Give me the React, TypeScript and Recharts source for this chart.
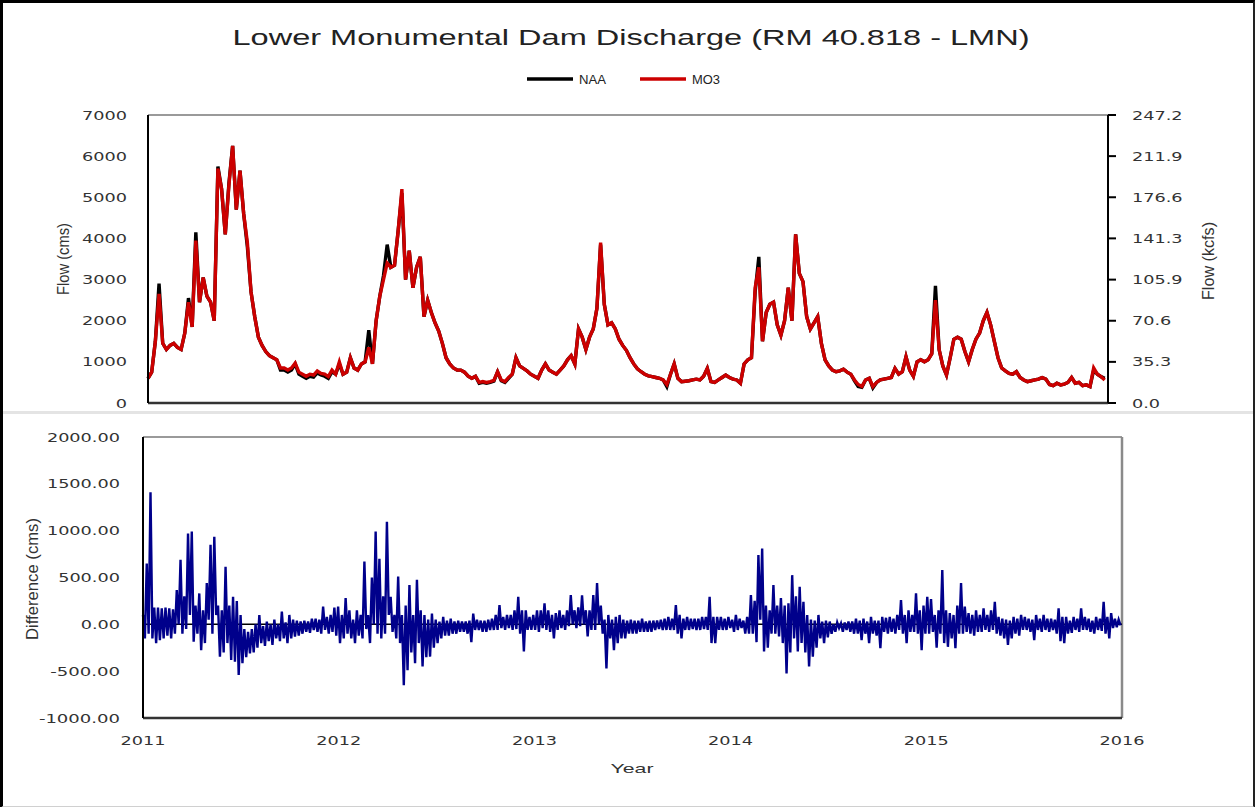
import React from "react";
import { Line, LineChart, ReferenceLine, XAxis, YAxis } from "recharts";

// weekly flow samples, half-weekly difference samples, starting 1 Jan 2011
const START_YEAR = 2011;
const WEEK = 7 / 365.25;
const HALF_WEEK = 3.5 / 365.25;

const yearTicks = [2011, 2012, 2013, 2014, 2015, 2016];
const flowTicks = [0, 1000, 2000, 3000, 4000, 5000, 6000, 7000];
const kcfsTicks = [0, 35.3, 70.6, 105.9, 141.3, 176.6, 211.9, 247.2];
const diffTicks = [-1000, -500, 0, 500, 1000, 1500, 2000];

// MO3 discharge (cms)
const mo3Flow = [
  600, 750, 1500, 2650, 1450, 1300, 1400, 1450, 1350, 1300, 1700, 2450, 1850,
  3950, 2450, 3050, 2600, 2450, 2000, 5700, 5200, 4100, 5300, 6250, 4700, 5650,
  4600, 3900, 2700, 2100, 1600, 1400, 1250, 1150, 1100, 1050, 850, 850, 800,
  850, 970, 750, 700, 650, 700, 680, 780, 720, 700, 640, 800, 700,
  1000, 700, 750, 1100, 850, 800, 950, 1000, 1350, 950, 2000, 2600, 3000,
  3400, 3300, 3350, 4200, 5200, 3000, 3700, 2800, 3300, 3550, 2100, 2500, 2200,
  1950, 1750, 1450, 1100, 950, 850, 800, 800, 750, 650, 600, 650, 500,
  520, 500, 520, 550, 760, 560, 520, 620, 700, 1100, 900, 840, 780,
  700, 650, 600, 800, 950, 800, 750, 700, 800, 900, 1050, 1150, 950,
  1800, 1600, 1300, 1600, 1800, 2300, 3900, 2400, 1900, 1950, 1800, 1550, 1400,
  1280, 1100, 950, 830, 760, 700, 660, 640, 620, 600, 560, 450, 700,
  950, 600, 520, 530, 540, 560, 580, 560, 650, 840, 520, 500, 560,
  620, 680, 620, 580, 560, 480, 950, 1050, 1100, 2800, 3300, 1500, 2200,
  2400, 2450, 1900, 1650, 2000, 2800, 2000, 4100, 3150, 2950, 2100, 1800, 1950,
  2100, 1450, 1050, 900, 800, 760, 780, 820, 750, 700, 560, 450, 400,
  560, 600, 400, 500, 560, 580, 600, 620, 840, 700, 760, 1125, 800,
  650, 1000, 1050, 1000, 1050, 1200, 2500, 1300, 900, 680, 1100, 1550, 1600,
  1550, 1250, 1000, 1300, 1550, 1700, 2000, 2200, 1900, 1500, 1100, 850, 780,
  720, 700, 760, 620, 560, 520, 540, 560, 580, 620, 580, 450, 420,
  480, 440, 460, 500, 620, 480, 500, 420, 440, 400, 850, 700, 640,
  560,
];

// NAA discharge (cms)
const naaFlow = [
  600, 750, 1500, 2900, 1450, 1300, 1400, 1450, 1350, 1300, 1700, 2550, 1850,
  4150, 2450, 3050, 2600, 2450, 2000, 5750, 5200, 4100, 5350, 6250, 4700, 5650,
  4600, 3800, 2700, 2100, 1600, 1400, 1250, 1150, 1100, 1050, 800, 800, 750,
  800, 950, 700, 650, 600, 650, 630, 730, 680, 650, 600, 760, 700,
  950, 700, 750, 1100, 850, 800, 950, 1000, 1770, 950, 2000, 2600, 3100,
  3850, 3300, 3350, 4200, 5100, 3000, 3700, 2800, 3300, 3550, 2100, 2500, 2200,
  1950, 1750, 1450, 1100, 950, 850, 800, 800, 750, 650, 600, 650, 480,
  500, 480, 500, 530, 760, 540, 500, 600, 700, 1100, 900, 840, 780,
  700, 650, 600, 800, 950, 800, 750, 700, 800, 900, 1050, 1150, 950,
  1800, 1600, 1300, 1600, 1800, 2300, 3850, 2400, 1900, 1950, 1800, 1550, 1400,
  1280, 1100, 950, 830, 760, 700, 660, 640, 620, 600, 560, 400, 700,
  950, 600, 520, 530, 540, 560, 580, 560, 650, 840, 520, 500, 560,
  620, 680, 620, 580, 560, 480, 950, 1050, 1100, 2700, 3550, 1500, 2200,
  2400, 2450, 1900, 1650, 2000, 2800, 2000, 4100, 3150, 2950, 2100, 1800, 1950,
  2100, 1450, 1050, 900, 800, 760, 780, 820, 750, 700, 540, 400, 380,
  560, 600, 370, 500, 560, 580, 600, 620, 840, 700, 760, 1125, 800,
  650, 1000, 1050, 1000, 1050, 1200, 2850, 1300, 900, 680, 1100, 1550, 1600,
  1550, 1250, 1000, 1300, 1550, 1700, 2000, 2200, 1900, 1500, 1100, 850, 780,
  720, 700, 760, 620, 560, 520, 540, 560, 580, 620, 580, 450, 420,
  480, 440, 460, 500, 620, 480, 500, 420, 440, 400, 800, 700, 640,
  600,
];

// difference (cms), two readings per week
const diffFlow = [
  100, -150, 650, -100, 1410, -150, 180, -200, 180, -170, 170, -150, 180, -120, 170, -150, 160, -100, 365, 0, 690, -100, 300, -50, 970, 100,
  990, -185, 200, -100, 330, -275, 150, -200, 440, 50, 850, -100, 935, 100, 200, -345, 150, -300, 615, -200, 200, -380, 295, -400, 250, -540,
  100, -415, -50, -350, -80, -310, -50, -300, 0, -250, 100, -200, -20, -230, 30, -180, 0, -220, 50, -150, 0, -180, 135, -150, 20, -200,
  100, -150, 50, -130, 40, -120, 30, -100, 40, -80, 30, -90, 60, -60, 60, -80, 50, -100, 190, -60, 80, -100, 100, -80, 180, -120,
  190, -200, 100, -150, 280, -100, 150, -150, 50, -200, 150, -120, 100, -150, 670, -50, 100, -200, 500, 0, 990, -100, 700, -150, 300, -100,
  1095, 100, 295, -80, 100, -150, 510, -200, 100, -650, 200, -490, 420, -300, 100, -415, 475, -200, 150, -450, 100, -350, 50, -345, 115, -250,
  50, -200, 30, -150, 80, -120, 40, -120, 60, -100, 30, -100, 40, -80, 30, -80, 30, -100, 40, -190, 115, -60, 50, -60, 40, -80,
  40, -80, 50, -60, 60, -60, 100, -60, 205, -40, 80, -60, 100, -40, 100, -60, 150, -50, 295, -100, 150, -290, 150, -60, 80, -60,
  100, -60, 150, -80, 150, -40, 225, -60, 150, -80, 100, -150, 120, -60, 150, -40, 100, -60, 150, -20, 313, 0, 150, -40, 180, -20,
  310, 0, 150, -130, 150, -60, 313, -60, 440, 0, 200, -100, 50, -470, 100, -150, 50, -275, 80, -200, 100, -150, 50, -150, 40, -100,
  50, -100, 40, -100, 40, -80, 60, -80, 30, -80, 40, -80, 40, -60, 40, -50, 50, -60, 60, -60, 80, -60, 60, -60, 205, -100,
  100, -150, 60, -60, 80, -60, 60, -50, 60, -60, 60, -60, 80, -50, 80, -60, 295, -200, 80, -200, 80, -60, 80, -60, 60, -60,
  80, -40, 50, -80, 100, -60, 60, -40, 40, -100, 80, -100, 313, -100, 250, -190, 740, 50, 810, -290, 200, -250, 150, -100, 420, -100,
  200, -130, 280, -200, 200, -525, 225, -300, 525, -150, 300, -290, 400, -200, 240, -300, 100, -450, 50, -345, 40, -250, 100, -150, 30, -200,
  40, -140, 30, -100, 0, -80, 20, -40, 10, -80, 20, -60, 30, -80, 30, -100, 60, -100, 40, -170, 60, -100, 30, -200, 80, -100,
  40, -120, 40, -255, 80, -80, 70, -100, 80, -80, 60, -100, 100, -60, 260, -100, 100, -200, 150, -80, 100, -80, 330, -100, 150, -275,
  200, -100, 295, -100, 270, -80, 100, -250, 150, -100, 580, -200, 150, -240, 120, -150, 100, -255, 200, -100, 440, -100, 190, -80, 120, -100,
  100, -120, 150, -80, 100, -80, 170, -60, 100, -80, 150, -60, 240, -100, 80, -120, 60, -150, 50, -220, 40, -150, 80, -100, 60, -120,
  100, -60, 80, -60, 60, -80, 50, -170, 100, -60, 60, -80, 100, -60, 60, -80, 60, -60, 50, -100, 170, -180, 80, -200, 80, -100,
  40, -90, 80, -60, 60, -80, 170, -60, 80, -60, 60, -80, 40, -100, 80, -60, 60, -70, 240, -100, 80, -150, 120, -40, 60, -30,
  50, -10,
];

const flowData = mo3Flow.map((v, i) => ({
  t: START_YEAR + i * WEEK,
  naa: naaFlow[i],
  mo3: v,
}));

const diffData = diffFlow.map((v, i) => ({
  t: START_YEAR + i * HALF_WEEK,
  diff: v,
}));

// the source image is stretched sideways, so labels get an explicit length
const numWidth = (s: string) =>
  s.split("").reduce((w, c) => w + (c === "." ? 5.6 : c === "-" ? 8 : 11.25), 0);

const NumTick = (props: any) => {
  const { x, y, payload, anchor, digits, dy } = props;
  const label =
    digits === undefined ? String(payload.value) : Number(payload.value).toFixed(digits);
  return (
    <text
      x={x}
      y={y + dy}
      textAnchor={anchor}
      fontFamily="DejaVu Sans, Verdana, sans-serif"
      fontSize={12.5}
      fill="#333"
      textLength={numWidth(label)}
      lengthAdjust="spacingAndGlyphs"
    >
      {label}
    </text>
  );
};

const VLabel = ({ x, y, len, text }: { x: number; y: number; len: number; text: string }) => (
  <text
    transform={`translate(${x},${y}) rotate(-90) scale(1,1.3)`}
    textAnchor="middle"
    dy={4.5}
    fontFamily="Liberation Sans, Arial, sans-serif"
    fontSize={12.5}
    fill="#333"
    textLength={len}
    lengthAdjust="spacingAndGlyphs"
  >
    {text}
  </text>
);

export default function App() {
  return (
    <div
      style={{
        position: "absolute",
        left: 0,
        top: 0,
        width: 1257,
        height: 807,
        background: "#fff",
        overflow: "hidden",
      }}
    >
      <div
        style={{
          position: "absolute",
          left: 0,
          top: 0,
          width: 1250,
          height: 803,
          borderLeft: "3px solid #000",
          borderTop: "3px solid #000",
          borderRight: "2px solid #222",
          borderBottom: "2px solid #d0d0d0",
        }}
      />
      <div
        style={{
          position: "absolute",
          left: 3,
          top: 411,
          width: 1250,
          height: 3,
          background: "#e4e4e4",
        }}
      />

      <div style={{ position: "absolute", left: 0, top: 0 }}>
        <LineChart
          width={1257}
          height={410}
          data={flowData}
          margin={{ top: 115, right: 49, bottom: 7, left: 68 }}
        >
          <XAxis dataKey="t" type="number" domain={[2011, 2016]} ticks={yearTicks} hide />
          <YAxis
            yAxisId="left"
            width={80}
            domain={[0, 7000]}
            ticks={flowTicks}
            interval={0}
            axisLine={{ stroke: "#000", strokeWidth: 2 }}
            tickLine={false}
            tickSize={0}
            tickMargin={21}
            tick={(p: any) => <NumTick {...p} anchor="end" dy={4.5} />}
          />
          <YAxis
            yAxisId="right"
            orientation="right"
            width={100}
            type="number"
            domain={[0, 247.2]}
            ticks={kcfsTicks}
            interval={0}
            allowDataOverflow
            axisLine={{ stroke: "#000", strokeWidth: 2 }}
            tickLine={{ stroke: "#000", strokeWidth: 2 }}
            tickSize={8}
            tickMargin={16}
            tick={(p: any) => <NumTick {...p} anchor="start" digits={1} dy={4.5} />}
          />
          <ReferenceLine yAxisId="left" y={7000} stroke="#9a9a9a" strokeWidth={2} />
          <ReferenceLine yAxisId="left" y={0} stroke="#333" strokeWidth={2.5} />
          <Line
            yAxisId="left"
            dataKey="naa"
            type="linear"
            stroke="#000"
            strokeWidth={3.4}
            dot={false}
            isAnimationActive={false}
          />
          <Line
            yAxisId="left"
            dataKey="mo3"
            type="linear"
            stroke="#cc0000"
            strokeWidth={3.4}
            dot={false}
            isAnimationActive={false}
          />
        </LineChart>
      </div>

      <div style={{ position: "absolute", left: 0, top: 410 }}>
        <LineChart
          width={1257}
          height={397}
          data={diffData}
          margin={{ top: 27, right: 135, bottom: 49, left: 63 }}
        >
          <XAxis
            dataKey="t"
            type="number"
            domain={[2011, 2016]}
            ticks={yearTicks}
            interval={0}
            height={40}
            axisLine={{ stroke: "#333", strokeWidth: 2.5 }}
            tickLine={false}
            tickSize={0}
            tickMargin={0}
            tick={(p: any) => <NumTick {...p} anchor="middle" dy={27} />}
          />
          <YAxis
            width={80}
            domain={[-1000, 2000]}
            ticks={diffTicks}
            interval={0}
            axisLine={{ stroke: "#000", strokeWidth: 2 }}
            tickLine={false}
            tickSize={0}
            tickMargin={23}
            tick={(p: any) => <NumTick {...p} anchor="end" digits={2} dy={4.5} />}
          />
          <ReferenceLine y={2000} stroke="#9a9a9a" strokeWidth={2} />
          <ReferenceLine x={2016} stroke="#8a8a8a" strokeWidth={2.5} />
          <ReferenceLine y={0} stroke="#000" strokeWidth={1.5} />
          <Line
            dataKey="diff"
            type="linear"
            stroke="#00008b"
            strokeWidth={2.4}
            dot={false}
            isAnimationActive={false}
          />
        </LineChart>
      </div>

      <svg
        width={1257}
        height={807}
        style={{ position: "absolute", left: 0, top: 0, pointerEvents: "none" }}
      >
        <text
          x={631}
          y={45}
          textAnchor="middle"
          fontFamily="Liberation Sans, Arial, sans-serif"
          fontSize={22}
          fill="#222"
          textLength={797}
          lengthAdjust="spacingAndGlyphs"
        >
          Lower Monumental Dam Discharge (RM 40.818 - LMN)
        </text>
        <line x1={527} x2={573} y1={79} y2={79} stroke="#000" strokeWidth={3.5} />
        <text
          x={579}
          y={84}
          fontFamily="Liberation Sans, Arial, sans-serif"
          fontSize={12}
          fill="#222"
          textLength={27}
          lengthAdjust="spacingAndGlyphs"
        >
          NAA
        </text>
        <line x1={640} x2={686} y1={79} y2={79} stroke="#cc0000" strokeWidth={3.5} />
        <text
          x={692}
          y={84}
          fontFamily="Liberation Sans, Arial, sans-serif"
          fontSize={12}
          fill="#222"
          textLength={28}
          lengthAdjust="spacingAndGlyphs"
        >
          MO3
        </text>
        <VLabel x={63} y={259} len={72} text="Flow (cms)" />
        <VLabel x={1208} y={261} len={78} text="Flow (kcfs)" />
        <VLabel x={32} y={579} len={122} text="Difference (cms)" />
        <text
          x={632}
          y={773}
          textAnchor="middle"
          fontFamily="Liberation Sans, Arial, sans-serif"
          fontSize={13}
          fill="#333"
          textLength={43}
          lengthAdjust="spacingAndGlyphs"
        >
          Year
        </text>
      </svg>
    </div>
  );
}
